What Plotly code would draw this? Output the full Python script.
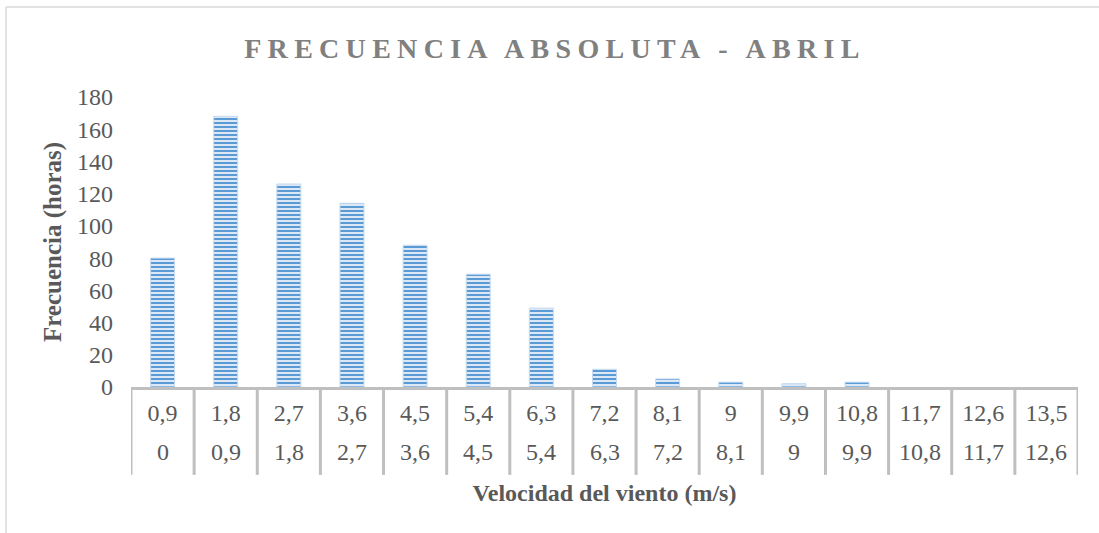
import plotly.graph_objects as go

# Wind speed bins (m/s): upper bound (top row) and lower bound (bottom row)
bin_upper = ["0,9", "1,8", "2,7", "3,6", "4,5", "5,4", "6,3", "7,2", "8,1", "9",
             "9,9", "10,8", "11,7", "12,6", "13,5"]
bin_lower = ["0", "0,9", "1,8", "2,7", "3,6", "4,5", "5,4", "6,3", "7,2", "8,1",
             "9", "9,9", "10,8", "11,7", "12,6"]
frecuencia = [80, 168, 126, 114, 88, 70, 49, 11, 5, 3, 2, 3, 0, 0, 0]
y_ticks = [0, 20, 40, 60, 80, 100, 120, 140, 160, 180]

title_text = "FRECUENCIA ABSOLUTA - ABRIL"
x_title = "Velocidad del viento (m/s)"
y_title = "Frecuencia (horas)"

FONT = "Liberation Serif, Times New Roman, serif"
TXT = "#595959"
GRID = "#bfbfbf"

fig = go.Figure()
fig.add_trace(go.Bar(
    x=bin_upper,
    y=frecuencia,
    customdata=bin_lower,
    hovertemplate="%{customdata} - %{x}: %{y}<extra></extra>",
    marker=dict(
        color="#5b9bd5",
        line=dict(color="#c5daf0", width=[1 if v > 0 else 0 for v in frecuencia]),
        pattern=dict(shape="-", fgcolor="#5b9bd5", bgcolor="#dce8f6",
                     size=4, solidity=0.5, fillmode="replace"),
    ),
))

# lower-bound row of the category table
annotations = [
    dict(x=lab_u, y=-0.224, xref="x", yref="paper", text=lab_l, showarrow=False,
         xanchor="center", yanchor="middle",
         font=dict(family=FONT, size=24, color=TXT))
    for lab_u, lab_l in zip(bin_upper, bin_lower)
]

# table dividers at every category boundary
shapes = [
    dict(type="line", xref="x", yref="paper", x0=i - 0.5, x1=i - 0.5,
         y0=0, y1=-0.303, line=dict(color=GRID, width=3))
    for i in range(len(bin_upper) + 1)
]
# chart-area border (top and left visible)
shapes += [
    dict(type="line", xref="paper", yref="paper",
         x0=-0.132, x1=1.1, y0=1.31, y1=1.31,
         line=dict(color="#d9d9d9", width=1.5)),
    dict(type="line", xref="paper", yref="paper",
         x0=-0.132, x1=-0.132, y0=1.31, y1=-0.6,
         line=dict(color="#d9d9d9", width=1.5)),
]

fig.update_layout(
    width=1099, height=533,
    margin=dict(l=131, r=21, t=97, b=146),
    paper_bgcolor="white", plot_bgcolor="white",
    bargap=0.62,
    showlegend=False,
    font=dict(family=FONT, color=TXT, size=24),
    title=dict(
        text='<span style="letter-spacing:6.3px">' + title_text + '</span>',
        font=dict(family=FONT, size=28, color="#808080", weight="bold"),
        xref="container", x=0.505, xanchor="center",
        yref="container", y=0.91, yanchor="middle",
    ),
    xaxis=dict(
        type="category",
        range=[-0.5, len(bin_upper) - 0.5],
        showline=True, linecolor=GRID, linewidth=2.5,
        showgrid=False, ticks="", ticklabelstandoff=2,
        tickfont=dict(family=FONT, size=24, color=TXT),
        title=dict(text="<b>" + x_title + "</b>",
                   font=dict(family=FONT, size=24, color=TXT), standoff=60),
    ),
    yaxis=dict(
        range=[0, 180], tickvals=y_ticks,
        showline=False, showgrid=False, zeroline=False, ticks="",
        ticklabelstandoff=17,
        tickfont=dict(family=FONT, size=24, color=TXT),
        title=dict(text="<b>" + y_title + "</b>",
                   font=dict(family=FONT, size=25, color=TXT), standoff=8),
    ),
    annotations=annotations,
    shapes=shapes,
)

fig.write_html("out.html", config={"displayModeBar": False},
               post_script="document.body.style.margin='0px';")
